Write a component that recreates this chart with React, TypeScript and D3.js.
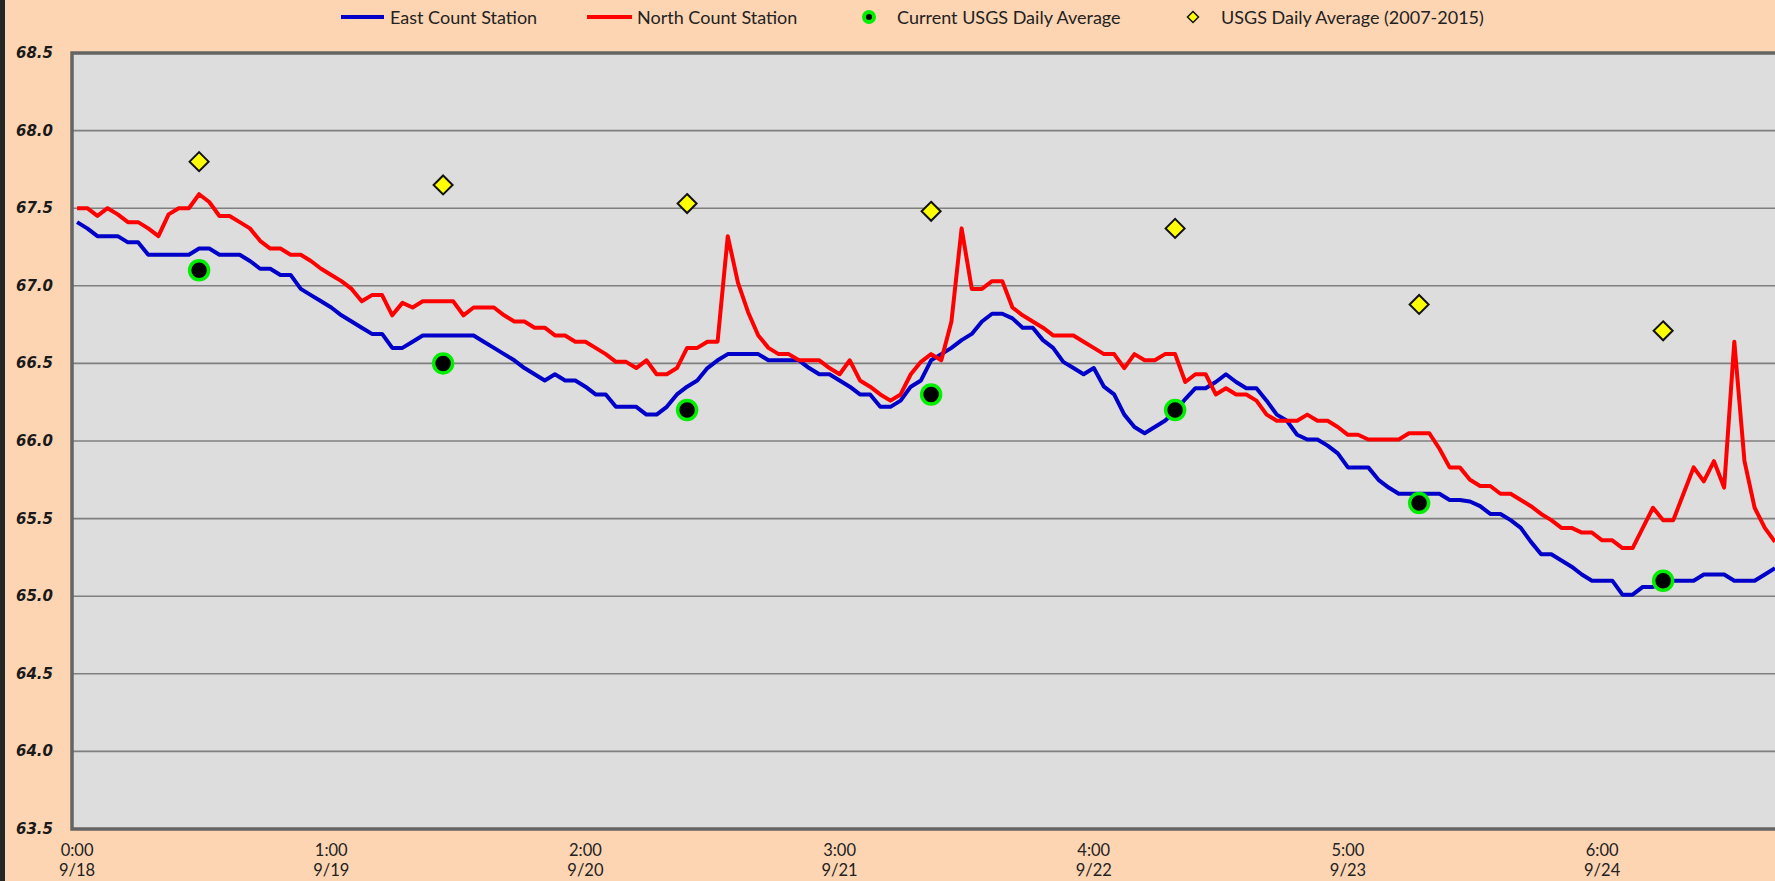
import React, { useEffect, useRef } from 'react';
import * as d3 from 'd3';

// hourly readings, starting 9/18 0:00
const eastStation = [
  67.41, 67.37, 67.32, 67.32, 67.32, 67.28, 67.28, 67.20, 67.20, 67.20, 67.20, 67.20,
  67.24, 67.24, 67.20, 67.20, 67.20, 67.16, 67.11, 67.11, 67.07, 67.07, 66.98, 66.94,
  66.90, 66.86, 66.81, 66.77, 66.73, 66.69, 66.69, 66.60, 66.60, 66.64, 66.68, 66.68,
  66.68, 66.68, 66.68, 66.68, 66.64, 66.60, 66.56, 66.52, 66.47, 66.43, 66.39, 66.43,
  66.39, 66.39, 66.35, 66.30, 66.30, 66.22, 66.22, 66.22, 66.17, 66.17, 66.22, 66.30,
  66.35, 66.39, 66.47, 66.52, 66.56, 66.56, 66.56, 66.56, 66.52, 66.52, 66.52, 66.52,
  66.47, 66.43, 66.43, 66.39, 66.35, 66.30, 66.30, 66.22, 66.22, 66.26, 66.35, 66.39,
  66.52, 66.56, 66.60, 66.65, 66.69, 66.77, 66.82, 66.82, 66.79, 66.73, 66.73, 66.65,
  66.60, 66.51, 66.47, 66.43, 66.47, 66.35, 66.30, 66.17, 66.09, 66.05, 66.09, 66.13,
  66.19, 66.27, 66.34, 66.34, 66.38, 66.43, 66.38, 66.34, 66.34, 66.26, 66.17, 66.13,
  66.04, 66.01, 66.01, 65.97, 65.92, 65.83, 65.83, 65.83, 65.75, 65.70, 65.66, 65.66,
  65.66, 65.66, 65.66, 65.62, 65.62, 65.61, 65.58, 65.53, 65.53, 65.49, 65.44, 65.35,
  65.27, 65.27, 65.23, 65.19, 65.14, 65.10, 65.10, 65.10, 65.01, 65.01, 65.06, 65.06,
  65.08, 65.10, 65.10, 65.10, 65.14, 65.14, 65.14, 65.10, 65.10, 65.10, 65.14, 65.18,
];

const northStation = [
  67.50, 67.50, 67.45, 67.50, 67.46, 67.41, 67.41, 67.37, 67.32, 67.46, 67.50, 67.50,
  67.59, 67.54, 67.45, 67.45, 67.41, 67.37, 67.29, 67.24, 67.24, 67.20, 67.20, 67.16,
  67.11, 67.07, 67.03, 66.98, 66.90, 66.94, 66.94, 66.81, 66.89, 66.86, 66.90, 66.90,
  66.90, 66.90, 66.81, 66.86, 66.86, 66.86, 66.81, 66.77, 66.77, 66.73, 66.73, 66.68,
  66.68, 66.64, 66.64, 66.60, 66.56, 66.51, 66.51, 66.47, 66.52, 66.43, 66.43, 66.47,
  66.60, 66.60, 66.64, 66.64, 67.32, 67.02, 66.83, 66.68, 66.60, 66.56, 66.56, 66.52,
  66.52, 66.52, 66.47, 66.43, 66.52, 66.39, 66.35, 66.30, 66.26, 66.30, 66.43, 66.51,
  66.56, 66.52, 66.77, 67.37, 66.98, 66.98, 67.03, 67.03, 66.86, 66.81, 66.77, 66.73,
  66.68, 66.68, 66.68, 66.64, 66.60, 66.56, 66.56, 66.47, 66.56, 66.52, 66.52, 66.56,
  66.56, 66.38, 66.43, 66.43, 66.30, 66.34, 66.30, 66.30, 66.26, 66.17, 66.13, 66.13,
  66.13, 66.17, 66.13, 66.13, 66.09, 66.04, 66.04, 66.01, 66.01, 66.01, 66.01, 66.05,
  66.05, 66.05, 65.95, 65.83, 65.83, 65.75, 65.71, 65.71, 65.66, 65.66, 65.62, 65.58,
  65.53, 65.49, 65.44, 65.44, 65.41, 65.41, 65.36, 65.36, 65.31, 65.31, 65.44, 65.57,
  65.49, 65.49, 65.66, 65.83, 65.74, 65.87, 65.70, 66.64, 65.87, 65.57, 65.44, 65.35,
];

// one value per day, plotted at noon
const dailyHours = [12, 36, 60, 84, 108, 132, 156];
const currentUsgs = [67.1, 66.5, 66.2, 66.3, 66.2, 65.6, 65.1];
const usgsAverage = [67.8, 67.65, 67.53, 67.48, 67.37, 66.88, 66.71];

// category labels every 25 hours
const labelHours = [0, 25, 50, 75, 100, 125, 150];
const timeLabels = ['0:00', '1:00', '2:00', '3:00', '4:00', '5:00', '6:00'];
const dateLabels = ['9/18', '9/19', '9/20', '9/21', '9/22', '9/23', '9/24'];

const legendNames = ['East Count Station', 'North Count Station', 'Current USGS Daily Average', 'USGS Daily Average (2007-2015)'];

const W = 1775;
const H = 881;
const FONT = 'Lato, "Liberation Sans", sans-serif';

const App = () => {
    const svgRef = useRef();

    useEffect(() => {
        const svg = d3.select(svgRef.current);
        svg.selectAll('*').remove();

        const left = 72, top = 53, bottom = 829;
        const step = 10.167;
        const n = eastStation.length;

        svg.append('rect').attr('width', W).attr('height', H).attr('fill', '#fdd5b3');
        svg.append('rect').attr('width', 5).attr('height', H).attr('fill', '#262626');

        const x = d3.scaleLinear().domain([-0.5, n - 0.5]).range([left, left + n * step]);
        const y = d3.scaleLinear().domain([63.5, 68.5]).range([bottom, top]);

        // plot area
        svg.append('rect')
            .attr('x', left).attr('y', top)
            .attr('width', n * step).attr('height', bottom - top)
            .attr('fill', '#dddddd');

        const yTicks = y.ticks(10);
        svg.append('g').selectAll('line')
            .data(yTicks.filter(t => t > 63.5 && t < 68.5))
            .join('line')
            .attr('x1', left).attr('x2', left + n * step)
            .attr('y1', d => y(d)).attr('y2', d => y(d))
            .attr('stroke', '#7f7f7f').attr('stroke-width', 1.6);

        // border
        svg.append('path')
            .attr('d', `M${left + n * step},${top}H${left}V${bottom}H${left + n * step}`)
            .attr('fill', 'none').attr('stroke', '#646464').attr('stroke-width', 3.5);

        svg.append('g').selectAll('text')
            .data(yTicks)
            .join('text')
            .attr('x', 53).attr('y', d => y(d))
            .attr('text-anchor', 'end').attr('dominant-baseline', 'central')
            .attr('font-family', '"DejaVu Sans", sans-serif')
            .attr('font-weight', 'bold').attr('font-style', 'italic')
            .attr('font-size', 15).attr('fill', '#1a1a1a')
            .text(d3.format('.1f'));

        const xl = svg.append('g').selectAll('text')
            .data(labelHours)
            .join('text')
            .attr('x', d => x(d))
            .attr('text-anchor', 'middle')
            .attr('font-family', FONT).attr('font-size', 16.5).attr('fill', '#222');
        xl.append('tspan').attr('x', d => x(d)).attr('y', 856).text((d, i) => timeLabels[i]);
        xl.append('tspan').attr('x', d => x(d)).attr('y', 876).text((d, i) => dateLabels[i]);

        const marks = svg.append('g');
        const line = d3.line().x((d, i) => x(i)).y(d => y(d));

        marks.append('path').datum(eastStation)
            .attr('d', line).attr('fill', 'none')
            .attr('stroke', '#0000c8').attr('stroke-width', 4).attr('stroke-linejoin', 'round');
        marks.append('path').datum(northStation)
            .attr('d', line).attr('fill', 'none')
            .attr('stroke', '#ff0000').attr('stroke-width', 4).attr('stroke-linejoin', 'round');

        const diamond = (s) => `M0,${-s}L${s},0L0,${s}L${-s},0Z`;

        marks.append('g').selectAll('path')
            .data(usgsAverage)
            .join('path')
            .attr('transform', (d, i) => `translate(${x(dailyHours[i])},${y(d)})`)
            .attr('d', diamond(9.5))
            .attr('fill', '#ffff00').attr('stroke', '#111').attr('stroke-width', 2);

        marks.append('g').selectAll('circle')
            .data(currentUsgs)
            .join('circle')
            .attr('cx', (d, i) => x(dailyHours[i])).attr('cy', d => y(d))
            .attr('r', 9.5)
            .attr('fill', '#000').attr('stroke', '#00ee00').attr('stroke-width', 3.5);

        // legend
        const lg = svg.append('g').attr('font-family', FONT).attr('font-size', 18).attr('fill', '#222');
        const ly = 17;
        lg.append('line').attr('x1', 341).attr('x2', 384).attr('y1', ly).attr('y2', ly)
            .attr('stroke', '#0000c8').attr('stroke-width', 4);
        lg.append('text').attr('x', 390).attr('y', ly).attr('dominant-baseline', 'central').text(legendNames[0]);
        lg.append('line').attr('x1', 587).attr('x2', 632).attr('y1', ly).attr('y2', ly)
            .attr('stroke', '#ff0000').attr('stroke-width', 4);
        lg.append('text').attr('x', 637).attr('y', ly).attr('dominant-baseline', 'central').text(legendNames[1]);
        lg.append('circle').attr('cx', 869).attr('cy', ly).attr('r', 5)
            .attr('fill', '#000').attr('stroke', '#00ee00').attr('stroke-width', 4);
        lg.append('text').attr('x', 897).attr('y', ly).attr('dominant-baseline', 'central').text(legendNames[2]);
        lg.append('path').attr('transform', `translate(1193,${ly})`).attr('d', diamond(5.5))
            .attr('fill', '#ffff00').attr('stroke', '#111').attr('stroke-width', 1.5);
        lg.append('text').attr('x', 1221).attr('y', ly).attr('dominant-baseline', 'central').text(legendNames[3]);
    }, []);

    return (
        <svg ref={svgRef} width={W} height={H}
            style={{ position: 'absolute', left: 0, top: 0, display: 'block' }} />
    );
};

export default App;
